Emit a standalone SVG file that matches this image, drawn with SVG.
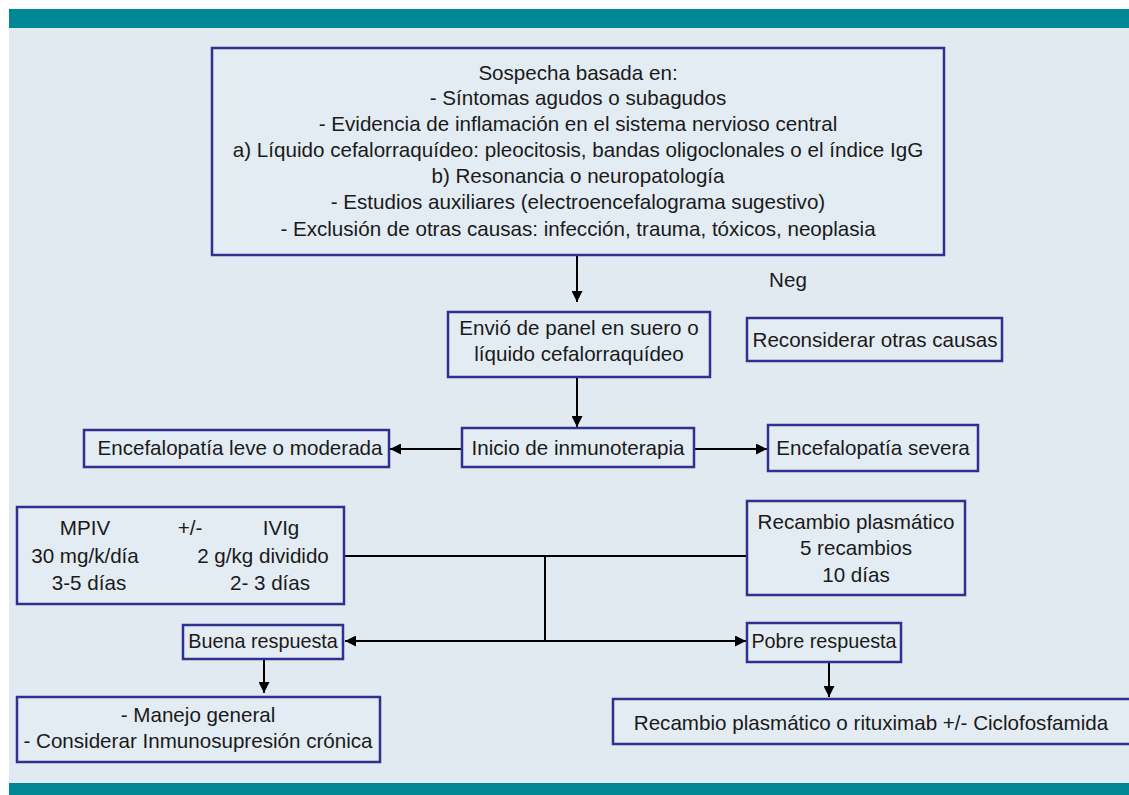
<svg xmlns="http://www.w3.org/2000/svg" width="1129" height="795" viewBox="0 0 1129 795">
<defs>
<style>
.bx{fill:#e3ecf2;stroke:#2e3190;stroke-width:2.5}
.t{font-family:"Liberation Sans",Arial,sans-serif;font-size:20.6px;fill:#1a1a1a;text-anchor:middle}
.s{font-size:19.8px}
.ln{stroke:#000;stroke-width:2;fill:none}
</style>
<marker id="ah" viewBox="0 0 10 10" refX="10" refY="5" markerWidth="11" markerHeight="11" markerUnits="userSpaceOnUse" orient="auto">
<path d="M0,0 L10,5 L0,10 Z" fill="#000"/>
</marker>
</defs>
<rect x="0" y="0" width="1129" height="795" fill="#fff"/>
<rect x="9" y="28" width="1120" height="755" fill="#e1eaf1"/>
<rect x="9" y="9" width="1120" height="19" fill="#008795"/>
<rect x="9" y="783" width="1120" height="12" fill="#008795"/>

<g id="connectors">
<line class="ln" x1="577" y1="256" x2="577" y2="302" marker-end="url(#ah)"/>
<line class="ln" x1="577" y1="378" x2="577" y2="427" marker-end="url(#ah)"/>
<line class="ln" x1="462" y1="449" x2="390" y2="449" marker-end="url(#ah)"/>
<line class="ln" x1="694" y1="449" x2="767" y2="449" marker-end="url(#ah)"/>
<line class="ln" x1="345" y1="556" x2="747" y2="556"/>
<line class="ln" x1="545" y1="556" x2="545" y2="641"/>
<line class="ln" x1="545" y1="641" x2="345" y2="641" marker-end="url(#ah)"/>
<line class="ln" x1="545" y1="641" x2="746" y2="641" marker-end="url(#ah)"/>
<line class="ln" x1="264" y1="660" x2="264" y2="693" marker-end="url(#ah)"/>
<line class="ln" x1="829" y1="663" x2="829" y2="697" marker-end="url(#ah)"/>
</g>

<g id="sospecha">
<rect class="bx" x="212" y="48" width="732" height="207"/>
<text class="t" x="578" y="80">Sospecha basada en:</text>
<text class="t" x="578" y="105">- Síntomas agudos o subagudos</text>
<text class="t" x="578" y="131">- Evidencia de inflamación en el sistema nervioso central</text>
<text class="t" x="578" y="157">a) Líquido cefalorraquídeo: pleocitosis, bandas oligoclonales o el índice IgG</text>
<text class="t" x="578" y="183">b) Resonancia o neuropatología</text>
<text class="t" x="578" y="209">- Estudios auxiliares (electroencefalograma sugestivo)</text>
<text class="t" x="578" y="236">- Exclusión de otras causas: infección, trauma, tóxicos, neoplasia</text>
</g>

<g id="neg">
<text class="t" x="788" y="287">Neg</text>
</g>

<g id="envio">
<rect class="bx" x="448" y="312" width="262" height="65"/>
<text class="t" x="579" y="335">Envió de panel en suero o</text>
<text class="t" x="579" y="361">líquido cefalorraquídeo</text>
</g>

<g id="reconsiderar">
<rect class="bx" x="747" y="318" width="255" height="43"/>
<text class="t" x="875" y="347">Reconsiderar otras causas</text>
</g>

<g id="inicio">
<rect class="bx" x="462" y="428" width="232" height="39"/>
<text class="t" x="578" y="455">Inicio de inmunoterapia</text>
</g>

<g id="leve">
<rect class="bx" x="84" y="430" width="305" height="37"/>
<text class="t" x="240" y="455">Encefalopatía leve o moderada</text>
</g>

<g id="severa">
<rect class="bx" x="768" y="425" width="210" height="46"/>
<text class="t" x="873" y="455">Encefalopatía severa</text>
</g>

<g id="mpiv">
<rect class="bx" x="17" y="507" width="327" height="97"/>
<text class="t" x="85" y="535">MPIV</text>
<text class="t" x="190" y="535">+/-</text>
<text class="t" x="281" y="535">IVIg</text>
<text class="t" x="85" y="563">30 mg/k/día</text>
<text class="t" x="263" y="563">2 g/kg dividido</text>
<text class="t" x="89" y="590">3-5 días</text>
<text class="t" x="270" y="590">2- 3 días</text>
</g>

<g id="recambio">
<rect class="bx" x="747" y="501" width="218" height="94"/>
<text class="t" x="856" y="529">Recambio plasmático</text>
<text class="t" x="856" y="555">5 recambios</text>
<text class="t" x="856" y="582">10 días</text>
</g>

<g id="buena">
<rect class="bx" x="183" y="625" width="160" height="34"/>
<text class="t s" x="263" y="648">Buena respuesta</text>
</g>

<g id="pobre">
<rect class="bx" x="747" y="623" width="154" height="39"/>
<text class="t s" x="824" y="648">Pobre respuesta</text>
</g>

<g id="manejo">
<rect class="bx" x="17" y="697" width="363" height="65"/>
<text class="t" x="198" y="722">- Manejo general</text>
<text class="t" x="198" y="748">- Considerar Inmunosupresión crónica</text>
</g>

<g id="rituximab">
<rect class="bx" x="613" y="699" width="530" height="45"/>
<text class="t" x="871" y="730">Recambio plasmático o rituximab +/- Ciclofosfamida</text>
</g>
</svg>
